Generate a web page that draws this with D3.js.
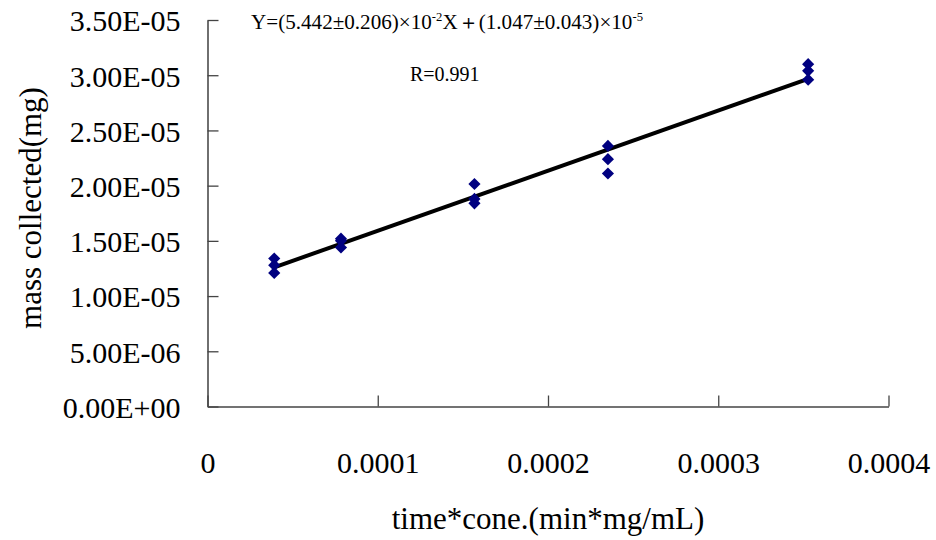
<!DOCTYPE html>
<meta charset="utf-8">
<style>
body { margin: 0; background: #fff; }
svg text { font-family: "Liberation Serif", "Times New Roman", serif; }
.axis-title { font-size: 31px; fill: #000; }
.note { font-size: 20px; fill: #000; }
</style>
<body>
<svg width="936" height="540"></svg>
<script src="https://cdn.jsdelivr.net/npm/d3@7"></script>
<script>

// x values: time*conc. (min*mg/mL)
let xValues = [0.0000392, 0.0000784, 0.0001568, 0.0002352, 0.0003528];
// three repeat measurements of mass collected (mg) per x value
let run1 = [1.34e-5, 1.52e-5, 2.015e-5, 2.36e-5, 3.10e-5];
let run2 = [1.28e-5, 1.50e-5, 1.88e-5, 2.24e-5, 3.04e-5];
let run3 = [1.21e-5, 1.44e-5, 1.84e-5, 2.11e-5, 2.96e-5];

let fitSlope = 5.442e-2;
let fitIntercept = 1.047e-5;

let xTicks = [0, 0.0001, 0.0002, 0.0003, 0.0004];
let xTickLabels = ['0', '0.0001', '0.0002', '0.0003', '0.0004'];
let yTicks = [0, 5e-6, 1e-5, 1.5e-5, 2e-5, 2.5e-5, 3e-5, 3.5e-5];
let yTickLabels = ['0.00E+00', '5.00E-06', '1.00E-05', '1.50E-05', '2.00E-05', '2.50E-05', '3.00E-05', '3.50E-05'];

let serif = '"Liberation Serif", "Times New Roman", serif';
let svg = d3.select('svg');

let x = d3.scaleLinear().domain([0, 0.0004]).range([207.5, 888.5]);
let y = d3.scaleLinear().domain([0, 3.5e-5]).range([406.5, 20]);

// y axis (ticks point inward)
let yAxis = svg.append('g')
  .attr('transform', 'translate(' + x(0) + ',0)')
  .call(d3.axisRight(y).tickValues(yTicks).tickSizeInner(11).tickSizeOuter(0)
    .tickFormat((d, i) => yTickLabels[i]));
yAxis.select('.domain').attr('stroke', '#222').attr('stroke-width', 1.3);
yAxis.selectAll('.tick line').attr('stroke', '#444').attr('stroke-width', 1.3);
yAxis.selectAll('.tick text')
  .attr('x', -27)
  .attr('dy', '0.36em')
  .attr('text-anchor', 'end');

// x axis (ticks point inward)
let xAxis = svg.append('g')
  .attr('transform', 'translate(0,' + y(0) + ')')
  .call(d3.axisTop(x).tickValues(xTicks).tickSizeInner(11).tickSizeOuter(0)
    .tickFormat((d, i) => xTickLabels[i]));
xAxis.select('.domain').attr('stroke', '#444').attr('stroke-width', 1.3);
xAxis.selectAll('.tick line').attr('stroke', '#444').attr('stroke-width', 1.3);
xAxis.selectAll('.tick text')
  .attr('y', 66)
  .attr('dy', 0)
  .attr('text-anchor', 'middle');

[yAxis, xAxis].forEach(g => {
  g.attr('font-family', serif).attr('font-size', 30);
  g.selectAll('.tick text')
    .style('font-family', serif)
    .style('font-size', '30px')
    .attr('fill', '#000');
});
svg.selectAll('.domain').attr('fill', 'none');

// axis titles
svg.append('text')
  .attr('class', 'axis-title')
  .attr('text-anchor', 'middle')
  .attr('x', 548)
  .attr('y', 529)
  .text('time*cone.(min*mg/mL)');

svg.append('text')
  .attr('class', 'axis-title')
  .attr('text-anchor', 'middle')
  .attr('transform', 'translate(41,208) rotate(-90)')
  .text('mass collected(mg)');

// fit line
let xMin = d3.min(xValues), xMax = d3.max(xValues);
let fit = [xMin, xMax].map(v => [v, fitSlope * v + fitIntercept]);
svg.append('path')
  .datum(fit)
  .attr('fill', 'none')
  .attr('stroke', '#000')
  .attr('stroke-width', 4)
  .attr('d', d3.line().x(d => x(d[0])).y(d => y(d[1])));

// data points
let points = [];
[run1, run2, run3].forEach(run => {
  run.forEach((v, i) => points.push([xValues[i], v]));
});
let diamond = d3.symbol().type(d3.symbolSquare).size(74);
svg.append('g')
  .selectAll('path')
  .data(points)
  .join('path')
  .attr('d', diamond)
  .attr('fill', '#000080')
  .attr('transform', d => 'translate(' + x(d[0]) + ',' + y(d[1]) + ') rotate(45)');

// equation and R
let eq = svg.append('text')
  .attr('class', 'note')
  .attr('x', 251)
  .attr('y', 29)
  .attr('textLength', 392)
  .attr('lengthAdjust', 'spacingAndGlyphs');
eq.append('tspan').text('Y=(5.442\u00b10.206)\u00d710');
eq.append('tspan').attr('dy', -8).attr('font-size', 12).text('-2');
eq.append('tspan').attr('dy', 8).text('X\uff0b(1.047\u00b10.043)\u00d710');
eq.append('tspan').attr('dy', -8).attr('font-size', 12).text('-5');

svg.append('text')
  .attr('class', 'note')
  .attr('x', 410)
  .attr('y', 81)
  .text('R=0.991');

</script>
</body>
